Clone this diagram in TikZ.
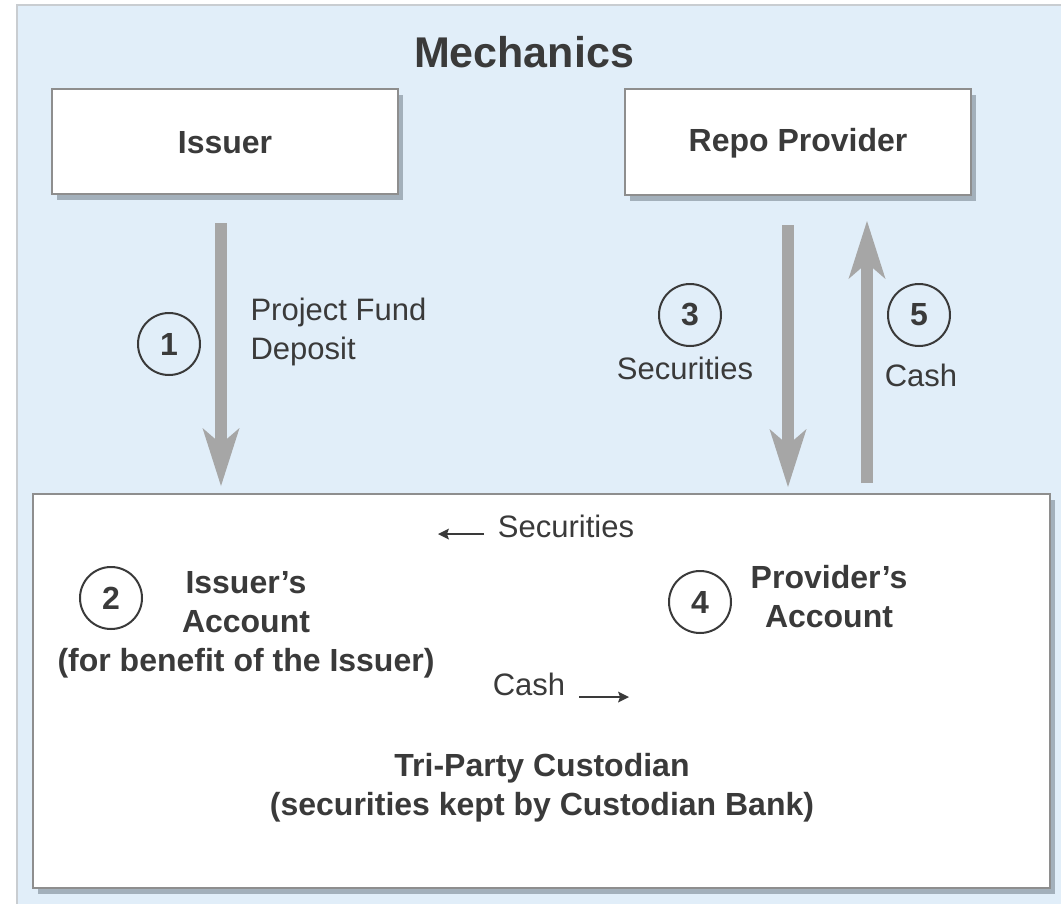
\documentclass[tikz,border=0pt]{standalone}
\usepackage{fontspec}
\setmainfont{Liberation Sans}
\usetikzlibrary{arrows.meta,shadows}
\definecolor{bgblue}{HTML}{E1EEF9}
\definecolor{bgline}{HTML}{C9CDD1}
\definecolor{txt}{HTML}{3A3A3A}
\definecolor{boxline}{HTML}{8E8E8E}
\definecolor{arrgray}{HTML}{A6A6A6}
\definecolor{shad}{HTML}{8A96A2}
\tikzset{
  mybox/.style={draw=boxline, line width=2.5pt, fill=white, inner sep=0pt,
    drop shadow={shadow xshift=5pt, shadow yshift=-6pt, fill=shad, opacity=0.7}},
  bigtxt/.style={text=txt, font=\fontsize{32}{39}\selectfont\bfseries, align=center},
  regtxt/.style={text=txt, font=\fontsize{31}{39}\selectfont},
  numcirc/.style={circle, draw=txt, line width=2pt, minimum size=62pt, inner sep=0pt,
    text=txt, font=\fontsize{32}{38}\selectfont\bfseries},
  bigarrow/.style={draw=arrgray, line width=12pt,
    -{Stealth[length=58pt, width=37pt, inset=16pt, line width=0pt, fill=arrgray]}},
  smallarrow/.style={draw=txt, line width=2.8pt,
    -{Stealth[length=11pt, width=11pt, inset=2pt, line width=0pt, fill=txt]}},
}
\begin{document}
\begin{tikzpicture}[x=1pt,y=-1pt]
\useasboundingbox (0,0) rectangle (1061,903);
% background panel
\fill[bgblue] (17,5) rectangle (1070,910);
\draw[bgline, line width=1.5pt] (17,910) -- (17,5) -- (1070,5);
% title
\node[text=txt, font=\fontsize{43}{50}\selectfont\bfseries] (title) at (524,52) {Mechanics};
% top boxes
\node[mybox, minimum width=346pt, minimum height=105pt] (issuer) at (225,141.5) {};
\node[bigtxt] at (225,143) {Issuer};
\node[mybox, minimum width=346pt, minimum height=106pt] (repo) at (798,142) {};
\node[bigtxt] at (798,143) {Repo Provider};
% custodian box
\node[mybox, minimum width=1017pt, minimum height=394pt] (cust) at (541.5,691) {};
% arrow coordinates
\coordinate (a1s) at (221,223);
\coordinate (a1e) at (221,486);
\coordinate (a3s) at (788,225);
\coordinate (a3e) at (788,487);
\coordinate (a5s) at (867,483);
\coordinate (a5e) at (867,221);
\draw[bigarrow] (a1s) -- (a1e);
\draw[bigarrow] (a3s) -- (a3e);
\draw[bigarrow] (a5s) -- (a5e);
% numbers
\node[numcirc] (c1) at (169,344) {1};
\node[numcirc] (c3) at (690,315) {3};
\node[numcirc] (c5) at (919,315) {5};
\node[numcirc] (c2) at (111,598) {2};
\node[numcirc] (c4) at (700,602) {4};
% labels
\node[regtxt, anchor=west, align=left] (pfd) at (247,332) {Project Fund\\Deposit};
\node[regtxt] (sec3) at (685,368) {Securities};
\node[regtxt] (cash5) at (921,375) {Cash};
% inside custodian
\node[bigtxt] (iacc) at (246,625) {Issuer’s\\Account\\(for benefit of the Issuer)};
\node[bigtxt] (pacc) at (829,597) {Provider’s\\Account};
\node[bigtxt] (tri) at (542,788) {Tri-Party Custodian\\(securities kept by Custodian Bank)};
\node[regtxt] (secin) at (566,526) {Securities};
\node[regtxt] (cashin) at (529,684) {Cash};
\coordinate (s1) at (484,534);
\coordinate (s2) at (438,534);
\coordinate (k1) at (579,697);
\coordinate (k2) at (629,697);
\draw[smallarrow] (s1) -- (s2);
\draw[smallarrow] (k1) -- (k2);
\end{tikzpicture}
\end{document}
